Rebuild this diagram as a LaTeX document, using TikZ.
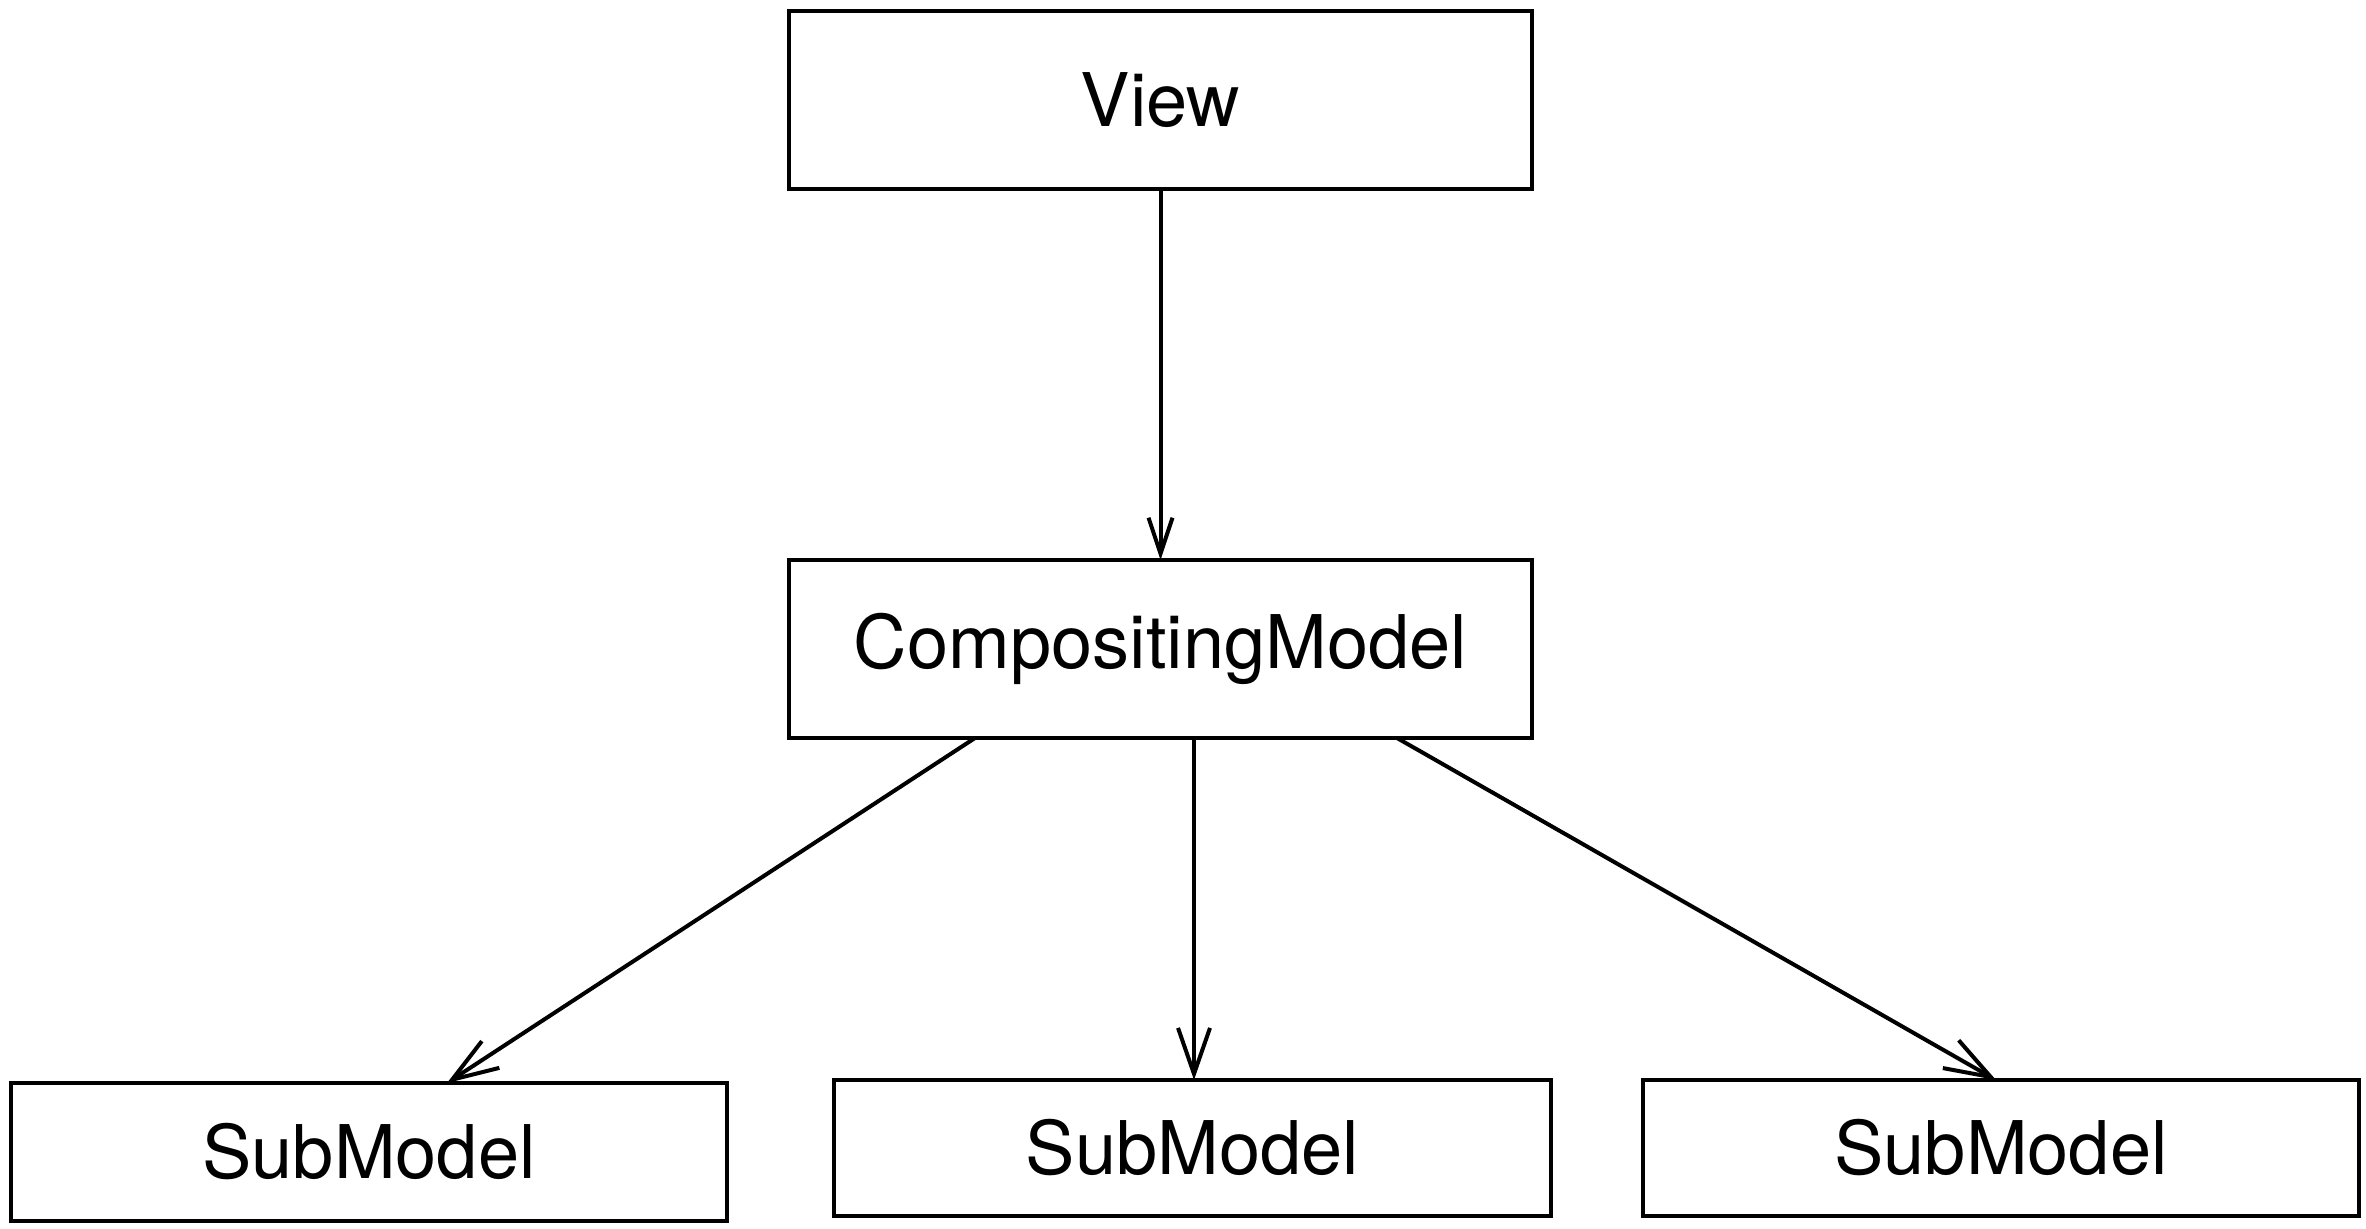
\documentclass[tikz,border=0pt]{standalone}
\usepackage{fontspec}
\setmainfont{TeX Gyre Heros}
\usetikzlibrary{arrows.meta,calc}
\begin{document}
\begin{tikzpicture}[x=0.5pt,y=-0.5pt,
  box/.style={draw,line width=2pt,inner sep=0pt,outer sep=0pt,font=\fontsize{37}{44}\selectfont},
  conn/.style={line width=2pt,-{Straight Barb[length=18pt,width=12pt,line width=2pt]}},
  bigconn/.style={line width=2pt,-{Straight Barb[length=23pt,width=16pt,line width=2pt]}}]
\useasboundingbox (0,0) rectangle (2366,1229);
\node[box,minimum width=371.5pt,minimum height=89pt] (view) at (1160.5,100) {View};
\node[box,minimum width=371.5pt,minimum height=89pt] (cm) at (1160.5,649) {CompositingModel};
\node[box,minimum width=358pt,minimum height=69pt] (sub1) at (369,1152) {SubModel};
\node[box,minimum width=358.5pt,minimum height=68pt] (sub2) at (1192.5,1148) {SubModel};
\node[box,minimum width=358pt,minimum height=68pt] (sub3) at (2001,1148) {SubModel};
\draw[conn] (view.south) -- (cm.north);
\draw[bigconn] ($(cm.south west)+(186,0)$) -- ($(sub1.north west)+(436,0)$);
\draw[bigconn] ($(cm.south west)+(405,0)$) -- ($(sub2.north west)+(360,0)$);
\draw[bigconn] ($(cm.south west)+(608,0)$) -- ($(sub3.north west)+(353,0)$);
\end{tikzpicture}
\end{document}
